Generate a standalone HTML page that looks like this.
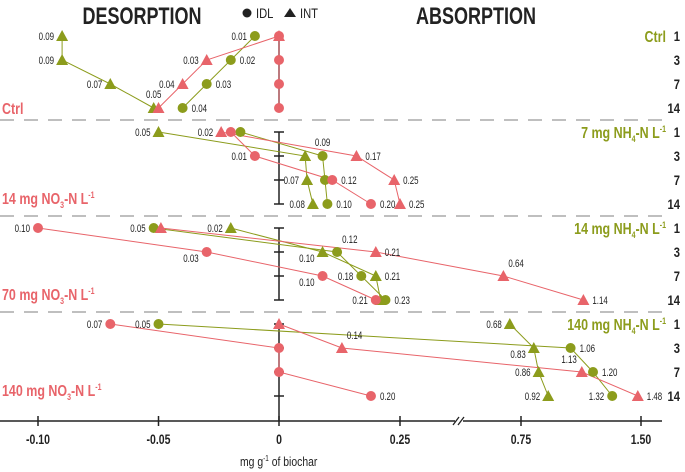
<!DOCTYPE html>
<html><head><meta charset="utf-8"><style>
html,body{margin:0;padding:0;background:#fff}
svg{display:block}
text{font-family:"Liberation Sans Narrow","Liberation Sans",sans-serif}
</style></head><body>
<svg id="chart" width="685" height="472" viewBox="0 0 685 472" xmlns="http://www.w3.org/2000/svg">
<text x="142" y="24" text-anchor="middle" font-size="24" font-weight="bold" fill="#222" transform="translate(142,0) scale(0.75,1) translate(-142,0)">DESORPTION</text>
<text x="476" y="24" text-anchor="middle" font-size="24" font-weight="bold" fill="#222" transform="translate(476,0) scale(0.75,1) translate(-476,0)">ABSORPTION</text>
<g>
<circle cx="247" cy="13" r="4.5" fill="#222"/>
<text x="256" y="18" font-size="14" fill="#222" transform="translate(256,0) scale(0.8,1) translate(-256,0)">IDL</text>
<path d="M284 17 L290 8 L296 17 Z" fill="#222"/>
<text x="300" y="18" font-size="14" fill="#222" transform="translate(300,0) scale(0.8,1) translate(-300,0)">INT</text>
</g>
<g id="grid"></g>
<g id="lines"></g>
<g id="marks"></g>
<g id="labels"></g>
</svg>
<script>
const days = ["1","3","7","14"];
const xTicks = [-0.10,-0.05,0,0.25,0.75,1.50];
const xTickLabels = ["-0.10","-0.05","0","0.25","0.75","1.50"];
const nh4Labels = ["Ctrl","7 mg NH","14 mg NH","140 mg NH"];
const no3Labels = ["Ctrl","14 mg NO","70 mg NO","140 mg NO"];
// values per panel (days 1,3,7,14)
const greenIDL = [[-0.01,-0.02,-0.03,-0.04],[-0.016,0.09,0.095,0.10],[-0.052,0.12,0.17,0.22],[-0.05,1.06,1.20,1.32]];
const greenINT = [[-0.09,-0.09,-0.07,-0.052],[-0.05,0.054,0.058,0.07],[-0.02,0.09,0.20,0.21],[0.68,0.83,0.86,0.92]];
const redIDL = [[0,0,0,0],[-0.02,-0.01,0.11,0.19],[-0.10,-0.03,0.09,0.20],[-0.07,0,0,0.19]];
const redINT = [[0,-0.03,-0.04,-0.05],[-0.024,0.16,0.238,0.25],[-0.049,0.20,0.64,1.14],[0,0.13,1.13,1.48]];
const greenIDLText = [["0.01","0.02","0.03","0.04"],["","0.09","","0.10"],["0.05","0.12","0.18","0.23"],["0.05","1.06","1.20","1.32"]];
const greenINTText = [["0.09","0.09","0.07","0.05"],["0.05","","0.07","0.08"],["0.02","0.10","0.21",""],["0.68","0.83","0.86","0.92"]];
const redIDLText = [["","","",""],["","0.01","0.12","0.20"],["0.10","0.03","0.10","0.21"],["0.07","","","0.20"]];
const redINTText = [["","0.03","0.04",""],["0.02","0.17","0.25","0.25"],["","0.21","0.64","1.14"],["","0.14","1.13","1.48"]];
// label placement codes
const greenIDLSide = [["l","r","r","r"],["","t","","r"],["l","tr","l","r"],["l","r","r","l"]];
const greenINTSide = [["l","l","l","t"],["l","","l","l"],["l","bl","r",""],["l","bl","l","l"]];
const redIDLSide = [["","","",""],["","l","r","r"],["l","bl","bl","l"],["l","","","r"]];
const redINTSide = [["","l","l",""],["l","r","r","r"],["","r","tr","r"],["","tr","tl","r"]];

const RED="#e8646a", GREEN="#8c9c1c", NS="http://www.w3.org/2000/svg";
function X(v){ return v<0 ? 279+v*2410 : (v<=0.3 ? 279+v*484 : 521+(v-0.75)*160); }
function Y(p,d){ return 36+p*96+d*24; }
function mk(tag,attrs,parent){const e=document.createElementNS(NS,tag);for(const k in attrs)e.setAttribute(k,attrs[k]);document.getElementById(parent).appendChild(e);return e;}
function txt(x,y,s,attrs,parent,sq){const e=mk("text",Object.assign({x:x,y:y},attrs),parent);e.textContent=s;if(sq)e.setAttribute("transform",`translate(${x},0) scale(${sq},1) translate(${-x},0)`);return e;}
function sub(el,main,s1,s2){
  const a=document.createElementNS(NS,"tspan");a.setAttribute("font-size","9");a.setAttribute("dy","4");a.textContent=s1;el.appendChild(a);
  const b=document.createElementNS(NS,"tspan");b.setAttribute("dy","-4");b.textContent=main;el.appendChild(b);
  const c=document.createElementNS(NS,"tspan");c.setAttribute("font-size","9");c.setAttribute("dy","-6");c.textContent=s2;el.appendChild(c);
}

for(let p=1;p<4;p++){
  const l=mk("line",{x1:0,x2:662,y1:Y(p,0)-12,y2:Y(p,0)-12,stroke:"#aaa","stroke-width":1.5,"stroke-dasharray":"14 10"},"grid");
  
  
}
for(let p=0;p<4;p++){
  const y2 = p===3 ? 421 : Y(p,3);
  const v=mk("line",{x1:279,x2:279,y1:Y(p,0),y2:y2,stroke:"#222","stroke-width":1.5},"grid");
  
  
  if(p>0){ for(let d=0;d<4;d++){
    const t=mk("line",{x1:274,x2:284,y1:Y(p,d),y2:Y(p,d),stroke:"#222","stroke-width":1.5},"grid");
    
    
  }}
  for(let d=0;d<4;d++){
    const dl=txt(680,Y(p,d)+5,days[d],{"font-size":14,"font-weight":"bold",fill:"#222","text-anchor":"end"},"labels",0.8);
    
    
  }
  const g=txt(666,Y(p,0)+6,nh4Labels[p],{"font-size":16,"font-weight":"bold",fill:GREEN,"text-anchor":"end"},"labels",0.78);
  
  
  if(p>0) sub(g,"-N L","4","-1");
  const r=txt(2,Y(p,3)+(p===0?6:0),no3Labels[p],{"font-size":16,"font-weight":"bold",fill:RED},"labels",0.78);
  
  
  if(p>0) sub(r,"-N L","3","-1");
}
const ax=mk("line",{x1:0,x2:662,y1:421,y2:421,stroke:"#222","stroke-width":1.5},"grid");


mk("rect",{x:455,y:418,width:8,height:6,fill:"#fff"},"grid");
const br=mk("path",{d:"M453 425 L459 417 M458 425 L464 417",stroke:"#222","stroke-width":1.3,fill:"none"},"grid");


for(let i=0;i<xTicks.length;i++){
  const x=X(xTicks[i]);
  const t=mk("line",{x1:x,x2:x,y1:416,y2:426,stroke:"#222","stroke-width":1.5},"grid");
  
  
  const l=txt(x,444,xTickLabels[i],{"font-size":14,"font-weight":"bold",fill:"#222","text-anchor":"middle"},"labels",0.75);
  
  
}
const xt=txt(240,466,"mg g",{"font-size":13,fill:"#222"},"labels",0.8);


{const s1=document.createElementNS(NS,"tspan");s1.setAttribute("font-size","8");s1.setAttribute("dy","-5");s1.textContent="-1";xt.appendChild(s1);
 const s2=document.createElementNS(NS,"tspan");s2.setAttribute("dy","5");s2.textContent=" of biochar";xt.appendChild(s2);}

function series(vals,texts,sides,color,shape,name){
  for(let p=0;p<4;p++){
    const pts=vals[p].map((v,d)=>[X(v),Y(p,d)]);
    const pl=mk("polyline",{points:pts.map(q=>q.join(",")).join(" "),fill:"none",stroke:color,"stroke-width":1},"lines");
    
    
    pts.forEach((q,d)=>{
      let m;
      if(shape==="c") m=mk("circle",{cx:q[0],cy:q[1],r:5,fill:color},"marks");
      else m=mk("path",{d:`M${q[0]-6} ${q[1]+5} L${q[0]} ${q[1]-6} L${q[0]+6} ${q[1]+5} Z`,fill:color},"marks");
      
      
      const s=texts[p][d];
      if(s){
        const sd=sides[p][d]||"r";
        let lx=q[0]+9, ly=q[1]+4, anc="start";
        if(sd==="l"){lx=q[0]-8;anc="end";}
        else if(sd==="bl"){lx=q[0]-8;ly=q[1]+10;anc="end";}
        else if(sd==="t"){lx=q[0];ly=q[1]-10;anc="middle";}
        else if(sd==="tr"){lx=q[0]+5;ly=q[1]-9;}
        else if(sd==="tl"){lx=q[0]-5;ly=q[1]-9;anc="end";}
        const lb=txt(lx,ly,s,{"font-size":11,fill:"#222","text-anchor":anc},"labels",0.72);
        
        
      }
    });
  }
}
series(greenINT,greenINTText,greenINTSide,GREEN,"t","green-int");
series(greenIDL,greenIDLText,greenIDLSide,GREEN,"c","green-idl");
series(redIDL,redIDLText,redIDLSide,RED,"c","red-idl");
series(redINT,redINTText,redINTSide,RED,"t","red-int");
</script>
</body></html>
